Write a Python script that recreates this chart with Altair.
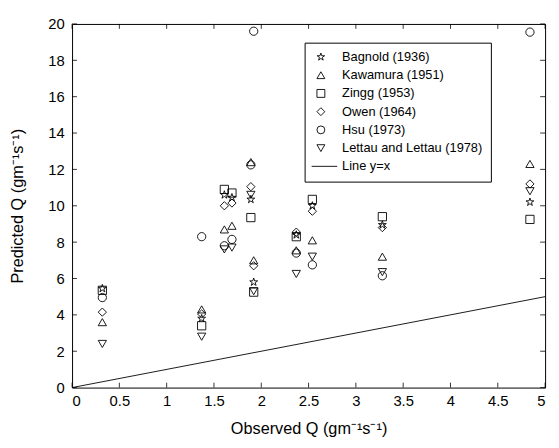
import altair as alt
import pandas as pd

# Observed transport rates (x) and predictions of each model (y)
observed = [0.32, 1.37, 1.61, 1.69, 1.89, 1.92, 2.37, 2.54, 3.28, 4.84]
bagnold = [5.45, 3.8, 10.6, 10.45, 10.35, 5.8, 8.4, 10.0, 8.95, 10.2]
kawamura = [3.6, 4.3, 8.7, 8.9, 12.4, 7.0, 7.55, 8.1, 7.2, 12.3]
zingg = [5.35, 3.4, 10.9, 10.7, 9.35, 5.25, 8.3, 10.35, 9.4, 9.25]
owen = [4.15, 4.05, 10.0, 10.15, 11.05, 6.7, 8.55, 9.7, 8.8, 11.2]
hsu = [4.95, 8.3, 7.8, 8.15, 12.25, 19.6, 7.4, 6.75, 6.15, 19.55]
lettau = [2.4, 2.8, 7.6, 7.7, 10.6, 5.3, 6.25, 7.2, 6.35, 10.8]

names = ["Bagnold (1936)", "Kawamura (1951)", "Zingg (1953)", "Owen (1964)",
         "Hsu (1973)", "Lettau and Lettau (1978)"]
series = [bagnold, kawamura, zingg, owen, hsu, lettau]
line_label = "Line y=x"
line_x = [0, 5]
line_y = [0, 5]

x_ticks = [0, 0.5, 1, 1.5, 2, 2.5, 3, 3.5, 4, 4.5, 5]
y_ticks = [0, 2, 4, 6, 8, 10, 12, 14, 16, 18, 20]

rows = []
for name, vals in zip(names, series):
    for o, p in zip(observed, vals):
        rows.append({"obs": o, "pred": p, "model": name})
df = pd.DataFrame(rows)
line_df = pd.DataFrame({"obs": line_x, "pred": line_y})

tick_x = 0.052
tick_y = 0.27
xt_rows = []
for v in x_ticks:
    xt_rows.append({"obs": v, "pred": 0, "pred2": tick_y})
    xt_rows.append({"obs": v, "pred": 20, "pred2": 20 - tick_y})
xt_df = pd.DataFrame(xt_rows)
yt_rows = []
for v in y_ticks:
    yt_rows.append({"pred": v, "obs": 0, "obs2": tick_x})
    yt_rows.append({"pred": v, "obs": 5, "obs2": 5 - tick_x})
yt_df = pd.DataFrame(yt_rows)

star = ("M0,-1L0.2245,-0.309L0.951,-0.309L0.363,0.118L0.588,0.809L0,0.382"
        "L-0.588,0.809L-0.363,0.118L-0.951,-0.309L-0.2245,-0.309Z")
shapes = [star, "triangle-up", "square", "diamond", "circle", "triangle-down",
          "M-2.35,0H4.15"]

xs = alt.Scale(domain=[0, 5], nice=False, zero=False)
ys = alt.Scale(domain=[0, 20], nice=False, zero=False)

xaxis = alt.Axis(values=x_ticks, format="~g",
                 title="Observed Q (gm⁻¹s⁻¹)",
                 ticks=False, domain=False, grid=False,
                 labelPadding=6, titlePadding=13,
                 labelFontSize=15, titleFontSize=16.5,
                 titleFontWeight="normal", labelColor="black",
                 titleColor="black")
yaxis = alt.Axis(values=y_ticks, format="d",
                 title="Predicted Q (gm⁻¹s⁻¹)",
                 ticks=False, domain=False, grid=False,
                 labelPadding=8, titlePadding=23,
                 labelFontSize=15, titleFontSize=16.5,
                 titleFontWeight="normal", labelColor="black",
                 titleColor="black")

X = alt.X("obs:Q", scale=xs, axis=xaxis)
Y = alt.Y("pred:Q", scale=ys, axis=yaxis)

line = alt.Chart(line_df).mark_line(color="black", strokeWidth=0.9).encode(x=X, y=Y)

xticks_layer = alt.Chart(xt_df).mark_rule(color="black", strokeWidth=0.8).encode(
    x=X, y=Y, y2="pred2:Q")
yticks_layer = alt.Chart(yt_df).mark_rule(color="black", strokeWidth=0.8).encode(
    x=X, x2="obs2:Q", y=Y)

points = alt.Chart(df).mark_point(filled=False, color="black", size=70,
                                  strokeWidth=0.9, opacity=1).encode(
    x=X, y=Y,
    shape=alt.Shape("model:N",
                    scale=alt.Scale(domain=names + [line_label], range=shapes),
                    legend=alt.Legend(title=None, orient="none",
                                      legendX=236, legendY=19,
                                      strokeColor="black", fillColor="white",
                                      padding=8, symbolOffset=2,
                                      labelOffset=15, rowPadding=4.5,
                                      symbolSize=64, symbolStrokeWidth=0.9,
                                      symbolStrokeColor="black",
                                      symbolFillColor="transparent",
                                      labelFontSize=13, labelColor="black",
                                      labelLimit=300)),
)

chart = alt.layer(line, xticks_layer, yticks_layer, points).properties(
    width=480, height=369,
    padding={"left": 65, "top": 13, "right": 6, "bottom": 50},
    autosize=alt.AutoSizeParams(type="none"),
    background="white",
).configure(font="Liberation Sans").configure_view(stroke="black", strokeWidth=1)

chart.save("out.html", embed_options={"renderer": "svg", "actions": False})
